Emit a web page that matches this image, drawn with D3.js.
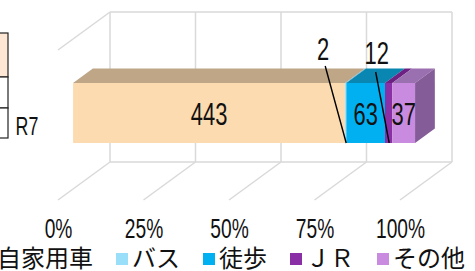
<!DOCTYPE html>
<html>
<head>
<meta charset="utf-8">
<script src="https://cdn.jsdelivr.net/npm/d3@7"></script>
<style>
  body { margin: 0; background: #fff; }
  svg { display: block; }
</style>
</head>
<body>
<svg id="chart"></svg>
<script>
// data
var categories = ["R7"];
var seriesNames = ["自家用車", "バス", "徒歩", "ＪＲ", "その他"];
var seriesValues = [443, 2, 63, 12, 37];
var tickValues = [0, 0.25, 0.5, 0.75, 1];

var width = 475, height = 271;
var numFont = "'Liberation Sans Narrow', 'Liberation Sans', Arial, sans-serif";
var jpFont = "'Noto Sans CJK JP', 'Noto Sans CJK SC', sans-serif";

var svg = d3.select("#chart").attr("width", width).attr("height", height);

// 3d box geometry (back wall + depth offset)
var depth = {dx: -52, dy: 38};
var zFront = 0.71, zBack = 0.33;

var x = d3.scaleLinear().domain([0, 1]).range([110, 452]);
var y = d3.scaleBand().domain(categories).range([11, 161]).paddingOuter(0.75).paddingInner(0);
var wallTop = 12, wallBottom = 162;

function P(v, z, yy) { return [x(v) + depth.dx * z, yy + depth.dy * z]; }

var color = d3.scaleOrdinal().domain(seriesNames)
  .range(["#fddbb0", "#9adffa", "#00b0f0", "#8a2fa6", "#c98bdf"]);
var topColor = d3.scaleOrdinal().domain(seriesNames)
  .range(["#bea686", "#78b8d0", "#0a86b2", "#6c2183", "#9b70b0"]);
var sideColor = "#845c97";

// narrow digits: squeeze so a digit is ~12px wide at 32px
var probe = svg.append("text").attr("font-family", numFont).attr("font-size", 32).text("0000000000");
var digitScale = 12.2 / (probe.node().getComputedTextLength() / 10);
probe.remove();

function numText(g, str, px, py, size) {
  return g.append("text")
    .attr("transform", "translate(" + px + "," + py + ") scale(" + digitScale + ",1)")
    .attr("font-family", numFont)
    .attr("font-size", size)
    .attr("text-anchor", "middle")
    .attr("fill", "#111")
    .text(str);
}

// --- data table remnant on the left
var tableRows = [[33, 77, "#fde6d3"], [77, 108, "#fff"], [108, 138, "#fff"]];
svg.append("g").selectAll("rect").data(tableRows).enter().append("rect")
  .attr("x", -20).attr("y", function(d) { return d[0]; })
  .attr("width", 28).attr("height", function(d) { return d[1] - d[0]; })
  .attr("fill", function(d) { return d[2]; })
  .attr("stroke", "#222").attr("stroke-width", 1.2);

// --- walls / grid
var grid = svg.append("g").attr("stroke", "#d9d9d9").attr("stroke-width", 1.5).attr("fill", "none");
grid.selectAll("line.v").data(tickValues).enter().append("line")
  .attr("x1", function(d) { return x(d); }).attr("x2", function(d) { return x(d); })
  .attr("y1", wallTop).attr("y2", wallBottom);
grid.selectAll("line.d").data(tickValues).enter().append("line")
  .attr("x1", function(d) { return x(d); }).attr("y1", wallBottom)
  .attr("x2", function(d) { return P(d, 1, wallBottom)[0]; })
  .attr("y2", function(d) { return P(d, 1, wallBottom)[1]; });
grid.append("line").attr("x1", x(0)).attr("x2", x(1)).attr("y1", wallTop).attr("y2", wallTop);
grid.append("line").attr("x1", x(0)).attr("x2", x(1)).attr("y1", wallBottom).attr("y2", wallBottom);
grid.append("line").attr("x1", x(0)).attr("y1", wallTop)
  .attr("x2", P(0, 1, wallTop)[0]).attr("y2", P(0, 1, wallTop)[1]);

// --- stacked 100% bar
var total = d3.sum(seriesValues);
var row = {category: categories[0]};
seriesNames.forEach(function(s, i) { row[s] = seriesValues[i] / total; });
var stacked = d3.stack().keys(seriesNames)([row]);

var bar = svg.append("g");
var yt = y(categories[0]), yb = yt + y.bandwidth();

stacked.forEach(function(layer) {
  var a = layer[0][0], b = layer[0][1];
  var f0 = P(a, zFront, yt), f1 = P(b, zFront, yb);
  bar.append("rect")
    .attr("x", f0[0]).attr("y", f0[1])
    .attr("width", f1[0] - f0[0]).attr("height", f1[1] - f0[1])
    .attr("fill", color(layer.key));
  bar.append("polygon")
    .attr("points", [P(a, zFront, yt), P(b, zFront, yt), P(b, zBack, yt), P(a, zBack, yt)].join(" "))
    .attr("fill", topColor(layer.key));
});
var last = stacked[stacked.length - 1][0][1];
bar.append("polygon")
  .attr("points", [P(last, zFront, yt), P(last, zBack, yt), P(last, zBack, yb), P(last, zFront, yb)].join(" "))
  .attr("fill", sideColor);

// --- data labels (small segments get a callout with leader line)
var callout = {"バス": {lx: -22.5, ly: 48, tx: -20.5, ty: 66}, "ＪＲ": {lx: -12, ly: 52, tx: -13, ty: 72}};
var labels = svg.append("g");
var midY = (P(0, zFront, yt)[1] + P(0, zFront, yb)[1]) / 2;
stacked.forEach(function(layer, i) {
  var a = layer[0][0], b = layer[0][1];
  var cx = (P(a, zFront, yt)[0] + P(b, zFront, yt)[0]) / 2;
  var c = callout[layer.key];
  if (c) {
    labels.append("line")
      .attr("x1", cx + c.tx).attr("y1", c.ty)
      .attr("x2", cx + 0.5).attr("y2", P(0, zFront, yb)[1])
      .attr("stroke", "#000").attr("stroke-width", 1.4);
    numText(labels, seriesValues[i], cx + c.lx, c.ly + 11.5, 32);
  } else {
    numText(labels, seriesValues[i], cx, midY + 12.5, 32);
  }
});

// category label
numText(svg, categories[0], 27, 135, 26);

// --- value axis at the front edge of the floor
var xFront = d3.scaleLinear().domain([0, 1]).range([x(0) + depth.dx, x(1) + depth.dx]);
var axis = svg.append("g").attr("transform", "translate(0,238)")
  .call(d3.axisBottom(xFront).tickValues(tickValues).tickFormat(d3.format(".0%")).tickSize(0));
axis.select(".domain").remove();
axis.selectAll("text")
  .attr("y", 0).attr("dy", null)
  .attr("transform", "scale(" + digitScale + ",1)")
  .attr("font-family", numFont).attr("font-size", 28).attr("fill", "#111");
axis.attr("font-family", null).attr("font-size", null);

// --- legend
var legend = svg.append("g");
var lx = -19;
seriesNames.forEach(function(s) {
  legend.append("rect").attr("x", lx).attr("y", 253).attr("width", 12).attr("height", 12)
    .attr("fill", color(s));
  var t = legend.append("text").attr("x", lx + 16).attr("y", 267)
    .attr("font-family", jpFont).attr("font-size", 24).attr("fill", "#111").text(s);
  lx += 16 + t.node().getComputedTextLength() + 23;
});
</script>
</body>
</html>
